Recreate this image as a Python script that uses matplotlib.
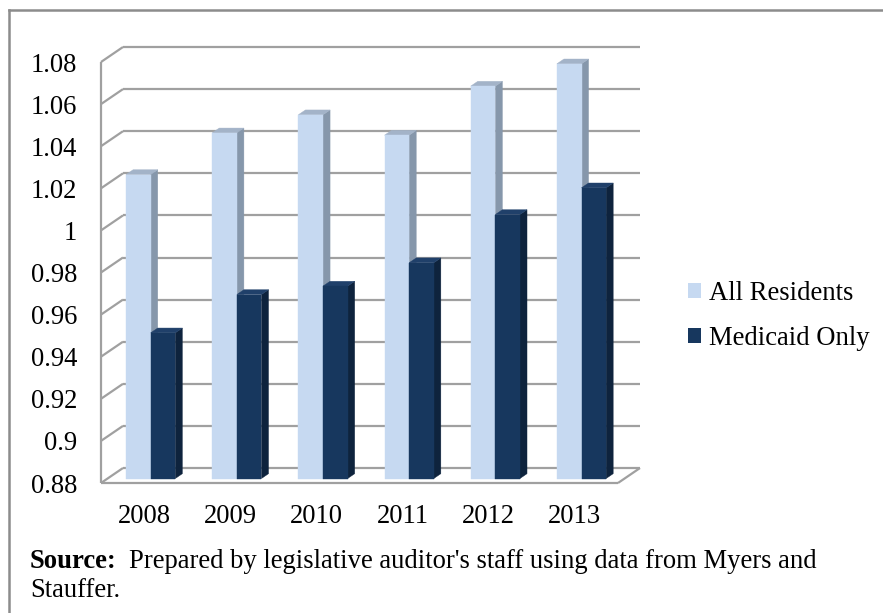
import matplotlib
matplotlib.use("Agg")
import matplotlib.pyplot as plt
from matplotlib.lines import Line2D
from matplotlib.patches import Patch

SERIF = ['Liberation Serif', 'DejaVu Serif']
plt.rcParams['font.family'] = SERIF

# ---- data ----
years = ["2008", "2009", "2010", "2011", "2012", "2013"]
all_residents = [1.0244, 1.0442, 1.0528, 1.0431, 1.0664, 1.0770]
medicaid_only = [0.9492, 0.9674, 0.9714, 0.9825, 1.0054, 1.0181]
series_names = ["All Residents", "Medicaid Only"]
y_ticks = [0.88, 0.90, 0.92, 0.94, 0.96, 0.98, 1.00, 1.02, 1.04, 1.06, 1.08]
y_tick_labels = ["0.88", "0.9", "0.92", "0.94", "0.96", "0.98", "1", "1.02", "1.04", "1.06", "1.08"]

# ---- style ----
W, H, DPI = 883, 613, 100
light = dict(front="#c6d9f1", side="#8697ab", top="#a3b3c8")
dark = dict(front="#17375e", side="#0e233d", top="#20406a")
grid_col = "#a0a0a0"
FS = 19.2

fig = plt.figure(figsize=(W / DPI, H / DPI), dpi=DPI)
# front plane of the 3D box
left_px, right_px, bot_px, top_px = 101, 618, 483, 62
ax = fig.add_axes([left_px / W, (H - bot_px) / H,
                   (right_px - left_px) / W, (bot_px - top_px) / H])
n = len(years)
ymin, ymax = y_ticks[0], y_ticks[-1]
ax.set_xlim(0, n)
ax.set_ylim(ymin, ymax)
for s in ax.spines.values():
    s.set_visible(False)

# depth vector (pixels) converted to data units
depth_px_x, depth_px_y = 22, 15
ddx = depth_px_x / ((right_px - left_px) / n)
ddy = depth_px_y / ((bot_px - top_px) / (ymax - ymin))

def line(xs, ys, **kw):
    ax.plot(xs, ys, color=grid_col, lw=1.6, clip_on=False, solid_capstyle='butt', **kw)

# back wall gridlines and left wall diagonals
for t in y_ticks:
    line([ddx, n + ddx], [t + ddy, t + ddy], zorder=1)
    line([0, ddx], [t, t + ddy], zorder=1)
# front axis line and floor
line([0, 0], [ymin, ymax], zorder=1)
line([0, n], [ymin, ymin], zorder=1)
line([n, n + ddx], [ymin, ymin + ddy], zorder=1)

# bars
bw = 1 / 3.5
f1, f2 = 0.30, 0.62

def bar3d(x0, val, col, z):
    ox1, oy1 = f1 * ddx, f1 * ddy
    ox2, oy2 = f2 * ddx, f2 * ddy
    xl, xr = x0 + ox1, x0 + bw + ox1
    yb, yt = ymin + oy1, val + oy1
    ax.fill([xr, xr + (ox2 - ox1), xr + (ox2 - ox1), xr],
            [yb, yb + (oy2 - oy1), yt + (oy2 - oy1), yt],
            color=col["side"], lw=0.3, ec=col["side"], clip_on=False, zorder=z)
    ax.fill([xl, xr, xr + (ox2 - ox1), xl + (ox2 - ox1)],
            [yt, yt, yt + (oy2 - oy1), yt + (oy2 - oy1)],
            color=col["top"], lw=0.3, ec=col["top"], clip_on=False, zorder=z)
    ax.fill([xl, xr, xr, xl], [yb, yb, yt, yt],
            color=col["front"], lw=0.3, ec=col["front"], clip_on=False, zorder=z)

z = 2
for i in range(n):
    c = i + 0.5
    bar3d(c - bw, all_residents[i], light, z); z += 1
    bar3d(c, medicaid_only[i], dark, z); z += 1

# ticks
ax.set_yticks(y_ticks)
ax.set_yticklabels(y_tick_labels, fontsize=FS, fontfamily=SERIF)
ax.set_xticks([i + 0.5 for i in range(n)])
ax.set_xticklabels(years, fontsize=FS, fontfamily=SERIF)
ax.tick_params(axis='y', length=0, pad=17)
ax.tick_params(axis='x', length=0, pad=15)

# legend
handles = [Patch(facecolor=light["front"], edgecolor='none'),
           Patch(facecolor=dark["front"], edgecolor='none')]
fig.legend(handles, series_names, loc='center left',
           bbox_to_anchor=(677 / W, 1 - 316 / H), frameon=False,
           prop=dict(family=SERIF, size=FS), handlelength=0.5, handleheight=0.5,
           handletextpad=0.3, labelspacing=0.75, borderaxespad=0)

# source note
fig.canvas.draw()
r = fig.canvas.get_renderer()
t1 = fig.text(30 / W, 1 - 568 / H, "Source:", fontsize=FS, fontweight='bold',
              fontfamily=SERIF, va='baseline', ha='left')
bb = t1.get_window_extent(renderer=r)
fig.text((bb.x1 + 12) / W, 1 - 568 / H,
         "Prepared by legislative auditor's staff using data from Myers and",
         fontsize=FS, fontfamily=SERIF, va='baseline', ha='left')
fig.text(30 / W, 1 - 597 / H, "Stauffer.", fontsize=FS, fontfamily=SERIF,
         va='baseline', ha='left')

# outer border (left and top)
fig.add_artist(Line2D([9 / W, 9 / W], [0, 1 - 10 / H], transform=fig.transFigure,
                      color="#8c8c8c", lw=1.8))
fig.add_artist(Line2D([9 / W, 1], [1 - 10 / H, 1 - 10 / H], transform=fig.transFigure,
                      color="#8c8c8c", lw=1.8))

fig.savefig("out.png", dpi=DPI)
